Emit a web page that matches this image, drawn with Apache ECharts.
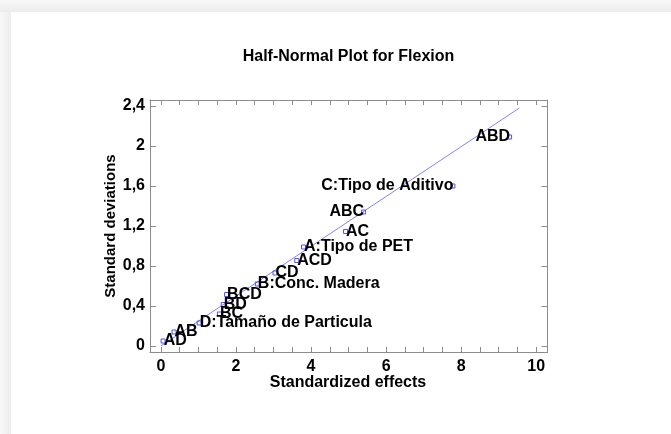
<!DOCTYPE html>
<html>
<head>
<meta charset="utf-8">
<script src="https://cdn.jsdelivr.net/npm/echarts@6/dist/echarts.min.js"></script>
<style>
  html, body { margin: 0; padding: 0; background: #ffffff; }
  #wrap { position: relative; width: 671px; height: 434px; overflow: hidden; background: #ffffff; }
  #shadeTop { position: absolute; left: 0; top: 0; width: 671px; height: 12px;
    background: linear-gradient(to bottom, #f8f8f8, #ececec); }
  #shadeLeft { position: absolute; left: 0; top: 12px; width: 11px; height: 422px;
    background: linear-gradient(to right, #f8f8f8, #ececec); }
  #chart { position: absolute; left: 0; top: 0; width: 671px; height: 434px; }
</style>
</head>
<body>
<div id="wrap">
  <div id="shadeTop"></div>
  <div id="shadeLeft"></div>
  <div id="chart"></div>
</div>
<script>
// Effect names, ordered by size of the standardized effect
const effectNames = ['AD', 'AB', 'D:Tamaño de Particula', 'BC', 'BD', 'BCD', 'B:Conc. Madera',
  'CD', 'ACD', 'A:Tipo de PET', 'AC', 'ABC', 'C:Tipo de Aditivo', 'ABD'];
// Absolute standardized effects
const standardizedEffects = [0.06, 0.35, 1.02, 1.56, 1.66, 1.75, 2.57,
  3.04, 3.62, 3.80, 4.92, 5.40, 7.78, 9.29];
// Half-normal scores
const standardDeviations = [0.05, 0.14, 0.23, 0.32, 0.415, 0.515, 0.62,
  0.73, 0.855, 0.99, 1.145, 1.34, 1.60, 2.09];
// Names whose label sits on the left side of the point
const leftLabelled = ['ABC', 'C:Tipo de Aditivo', 'ABD'];
// Reference line through the origin
const refLineX = [0, 9.55];
const refLineY = [0, 2.38];
// Axis ticks and labels
const xTickLabels = [0, 2, 4, 6, 8, 10];
const xTickMarks = [0, 0.5, 1, 1.5, 2, 2.5, 3, 3.5, 4, 4.5, 5, 5.5, 6, 6.5, 7, 7.5, 8, 8.5, 9, 9.5, 10];
const yTickLabels = [0, 0.4, 0.8, 1.2, 1.6, 2, 2.4];

const FONT = '"Liberation Sans", Arial, sans-serif';
const TXT = '#000000';
const AXIS = '#8c8c8c';

const chart = echarts.init(document.getElementById('chart'), null, { renderer: 'canvas' });

const xRange = { min: -0.29, max: 10.3 };
const yRange = { min: -0.06, max: 2.46 };

function xAxisDef(pos, withLabels) {
  return Object.assign({
    type: 'value', position: pos, gridIndex: 0,
    axisLine: { show: true, onZero: false, lineStyle: { color: AXIS, width: 1 } },
    axisTick: { show: true, inside: true, length: 5, customValues: xTickMarks, lineStyle: { color: AXIS } },
    axisLabel: withLabels ? {
      show: true, customValues: xTickLabels, margin: 7,
      color: TXT, fontFamily: FONT, fontWeight: 'bold', fontSize: 16
    } : { show: false },
    splitLine: { show: false }
  }, xRange);
}
function yAxisDef(pos, withLabels) {
  return Object.assign({
    type: 'value', position: pos, gridIndex: 0,
    axisLine: { show: true, onZero: false, lineStyle: { color: AXIS, width: 1 } },
    axisTick: { show: true, inside: true, length: 6, customValues: yTickLabels, lineStyle: { color: AXIS } },
    axisLabel: withLabels ? {
      show: true, customValues: yTickLabels, margin: 5,
      color: TXT, fontFamily: FONT, fontWeight: 'bold', fontSize: 16,
      formatter: v => String(v).replace('.', ',')
    } : { show: false },
    splitLine: { show: false }
  }, yRange);
}

const pointData = standardizedEffects.map((x, i) => {
  const left = leftLabelled.indexOf(effectNames[i]) >= 0;
  return {
    name: effectNames[i],
    value: [x, standardDeviations[i]],
    label: { position: left ? 'left' : 'right', distance: left ? -3 : -2 }
  };
});

chart.setOption({
  animation: false,
  backgroundColor: 'transparent',
  grid: { left: 150, top: 100, width: 397.5, height: 252, containLabel: false },
  xAxis: [xAxisDef('bottom', true), xAxisDef('top', false)],
  yAxis: [yAxisDef('left', true), yAxisDef('right', false)],
  graphic: [
    { type: 'text', x: 348.5, y: 57, style: {
        text: 'Half-Normal Plot for Flexion', fill: TXT, font: 'bold 16px ' + FONT,
        textAlign: 'center', textVerticalAlign: 'middle' } },
    { type: 'text', x: 348, y: 383, style: {
        text: 'Standardized effects', fill: TXT, font: 'bold 16px ' + FONT,
        textAlign: 'center', textVerticalAlign: 'middle' } },
    { type: 'text', x: 111, y: 226, rotation: Math.PI / 2, style: {
        text: 'Standard deviations', fill: TXT, font: 'bold 15px ' + FONT,
        textAlign: 'center', textVerticalAlign: 'middle' } }
  ],
  series: [
    {
      type: 'line', xAxisIndex: 0, yAxisIndex: 0,
      data: refLineX.map((x, i) => [x, refLineY[i]]),
      symbol: 'none', silent: true,
      lineStyle: { color: '#8080ff', width: 1 }, z: 2
    },
    {
      type: 'scatter', xAxisIndex: 0, yAxisIndex: 0,
      data: pointData,
      symbol: 'rect', symbolSize: 4,
      itemStyle: { color: 'rgba(0,0,0,0)', borderColor: '#5050ff', borderWidth: 1, opacity: 1 },
      label: {
        show: true, formatter: p => p.name,
        color: TXT, fontFamily: FONT, fontWeight: 'bold', fontSize: 16,
        textBorderWidth: 0
      },
      labelLayout: { hideOverlap: false },
      z: 3
    }
  ]
});
</script>
</body>
</html>
